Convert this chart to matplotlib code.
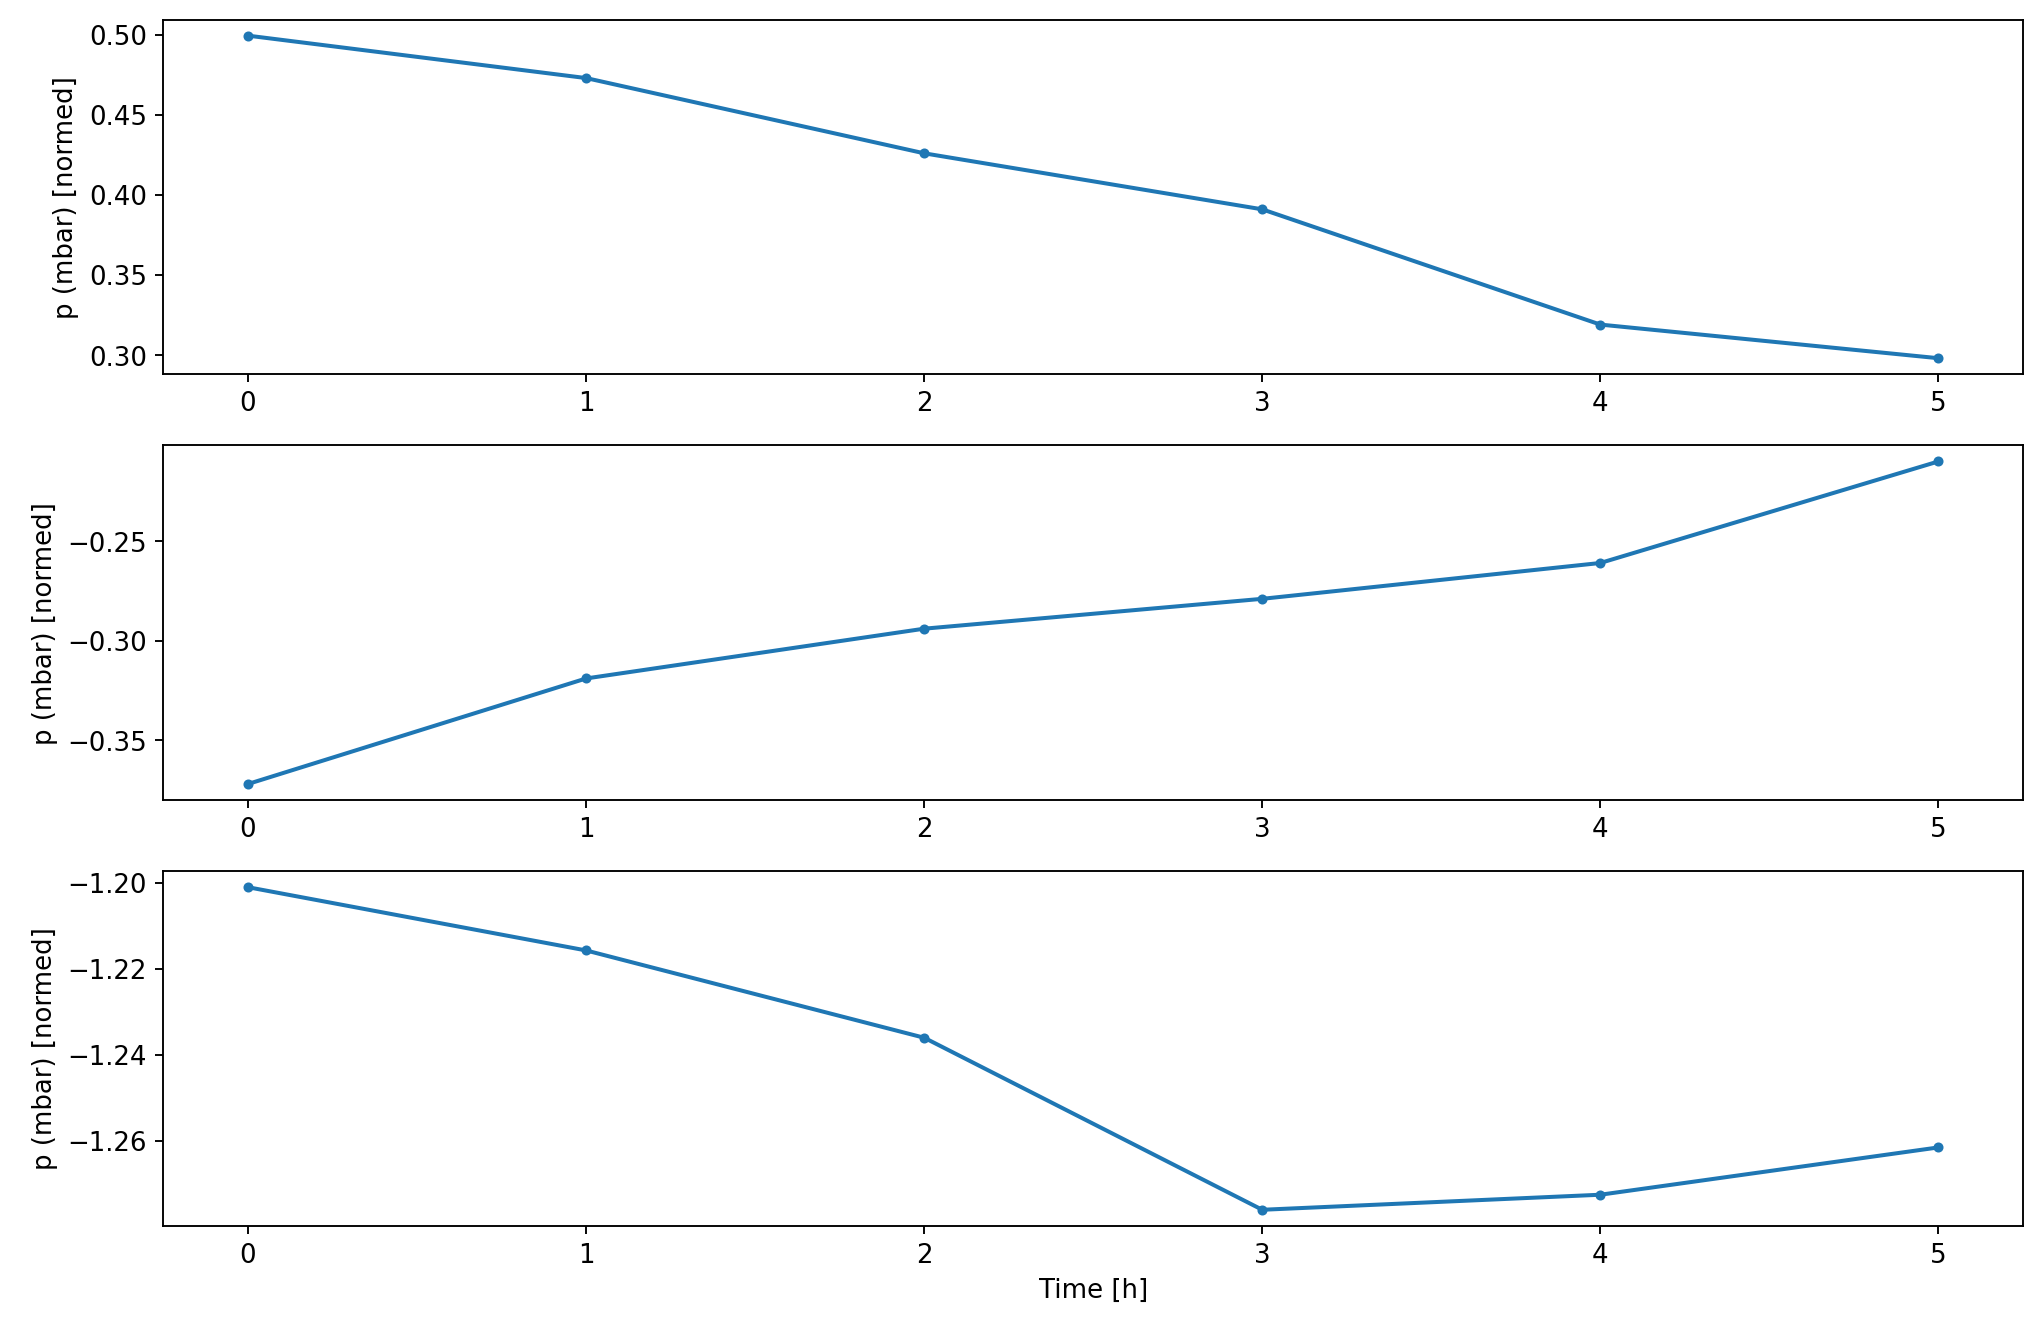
import matplotlib
matplotlib.use("Agg")
import matplotlib.pyplot as plt

plt.rcParams['font.size'] = 11

# Time steps (hours)
time_h = [0, 1, 2, 3, 4, 5]

# Normalized pressure for three samples
p_sample1 = [0.4995, 0.473, 0.426, 0.391, 0.319, 0.298]
p_sample2 = [-0.372, -0.319, -0.294, -0.279, -0.261, -0.210]
p_sample3 = [-1.201, -1.2157, -1.236, -1.276, -1.2725, -1.2615]

series = [p_sample1, p_sample2, p_sample3]

fig, axes = plt.subplots(3, 1, figsize=(12.02, 7.85), dpi=170)
fig.subplots_adjust(left=0.080, right=0.990, top=0.985, bottom=0.081, hspace=0.2)

for ax, vals in zip(axes, series):
    ax.plot(time_h, vals, marker='.', markersize=6.5, linewidth=1.7, color='#1f77b4')
    ax.set_ylabel("p (mbar) [normed]")

axes[-1].set_xlabel("Time [h]")

fig.savefig("out.png")
